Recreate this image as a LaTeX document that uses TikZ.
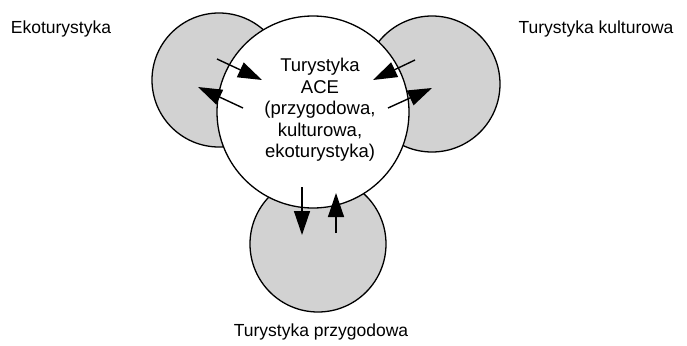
\documentclass[tikz,border=0pt]{standalone}
\usepackage{fontspec}
\setmainfont{Liberation Sans}
\usetikzlibrary{arrows.meta}
\begin{document}
\begin{tikzpicture}[x=1pt, y=-1pt, line join = round,
  kolo/.style = {circle, draw = black, line width = 1.3pt, inner sep = 0pt},
  szare/.style = {kolo, fill = gray!35},
  strz/.style = {line width = 1.4pt, -{Triangle[length = 24pt, width = 16pt]}},
  opis/.style = {font = \fontsize{17.5}{20}\selectfont}]
\useasboundingbox (0,0) rectangle (687,345);
%Koła
\node[szare, minimum size = 134pt] (eko) at (219,80) {};
\node[szare, minimum size = 136pt] (kult) at (432,84) {};
\node[szare, minimum size = 136pt] (przyg) at (318,244) {};
\node[kolo, fill = white, minimum size = 192pt] (ace) at (313,112) {};
\node[align = center, font = \fontsize{18.5}{21.5}\selectfont] (tekst) at (320,110)
  {Turystyka\\ACE\\(przygodowa,\\kulturowa,\\ekoturystyka)};
%Podpisy
\node[opis] (eko-opis) at (61,29) {Ekoturystyka};
\node[opis] (kult-opis) at (596,29) {Turystyka kulturowa};
\node[opis] (przyg-opis) at (321,332) {Turystyka przygodowa};
%Strzałki
\coordinate (e1) at (217,59);  \coordinate (e2) at (262,80);
\coordinate (e3) at (243,108); \coordinate (e4) at (198,87);
\coordinate (k1) at (415,60);  \coordinate (k2) at (373,80);
\coordinate (k3) at (388,108); \coordinate (k4) at (432,88);
\coordinate (p1) at (302,187); \coordinate (p2) at (302,235);
\coordinate (p3) at (336,233); \coordinate (p4) at (336,193);
\draw[strz] (e1) -- (e2);
\draw[strz] (e3) -- (e4);
\draw[strz] (k1) -- (k2);
\draw[strz] (k3) -- (k4);
\draw[strz] (p1) -- (p2);
\draw[strz] (p3) -- (p4);
\end{tikzpicture}
\end{document}
